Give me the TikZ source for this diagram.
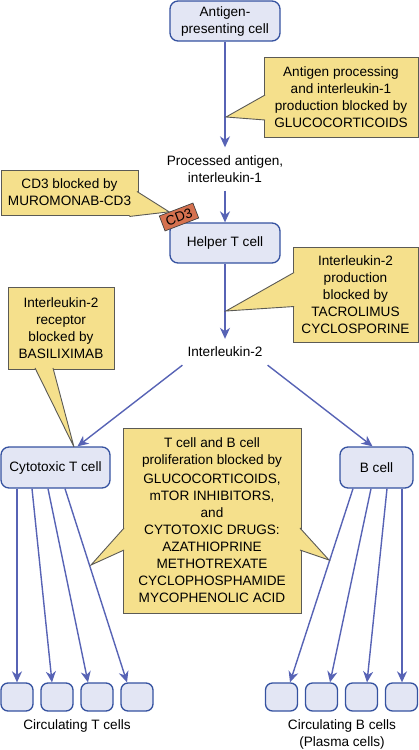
\documentclass[tikz,border=0pt]{standalone}
\usepackage{fontspec}
\setmainfont{Liberation Sans}
\usetikzlibrary{arrows.meta,calc}
\definecolor{CellFill}{HTML}{E3E6F4}
\definecolor{CellLine}{HTML}{3552A0}
\definecolor{Flow}{HTML}{5763B5}
\definecolor{NoteFill}{HTML}{F5E08C}
\definecolor{NoteLine}{HTML}{5B5A55}
\definecolor{TagFill}{HTML}{D5714F}

\begin{document}
\begin{tikzpicture}[x=1pt,y=-1pt,>={Stealth[length=11pt,width=10pt,inset=3.5pt]},
    font=\fontsize{13.6}{17}\selectfont,
    cell/.style={draw=CellLine,fill=CellFill,line width=1.3pt,rounded corners=8pt,align=center,inner sep=2pt},
    small/.style={cell,rounded corners=7pt,minimum width=32pt,minimum height=28pt},
    note/.style={draw=NoteLine,fill=NoteFill,line width=0.9pt,align=center,inner sep=2pt},
    wedge/.style={draw=NoteLine,fill=NoteFill,line width=0.9pt},
    tag/.style={draw=black!75,fill=TagFill,line width=0.7pt,minimum width=36pt,minimum height=16pt,inner sep=1pt},
    flow/.style={->,draw=Flow,line width=1.4pt},
    txt/.style={align=center,inner xsep=5pt,inner ysep=8pt}]
    \useasboundingbox (0,0) rectangle (419,750);

    % main chain
    \node[cell,minimum width=110pt,minimum height=40pt] (apc) at (225,21) {Antigen-\\presenting cell};
    \node[txt] (proc) at (225,169) {Processed antigen,\\interleukin-1};
    \node[cell,minimum width=110pt,minimum height=40pt] (helper) at (225,243) {Helper T cell};
    \node[tag,rotate=21] (cd3) at (179,217) {CD3};
    \node[txt] (il2) at (225,352) {Interleukin-2};
    \node[cell,minimum width=109pt,minimum height=41pt] (cyto) at (55.5,467.5) {Cytotoxic T cell};
    \node[cell,minimum width=73pt,minimum height=41pt] (bcell) at (376.5,467.5) {B cell};

    % circulating cells
    \foreach \x [count=\i] in {17,57,97,137}
      \node[small] (t\i) at (\x,697) {};
    \foreach \x [count=\i] in {281.5,321.5,361.5,401.5}
      \node[small] (b\i) at (\x,697) {};
    \node (tlab) at (77,726) {Circulating T cells};
    \node[align=center] (blab) at (342,734.5) {Circulating B cells\\(Plasma cells)};

    \draw[flow] (apc) -- (proc);
    \draw[flow] (proc) -- (helper);
    \draw[flow] (helper) -- (il2);
    \draw[flow] (il2.south west) -- ([xshift=22pt]cyto.north);
    \draw[flow] (il2.south east) -- ([xshift=-4pt]bcell.north);
    \foreach \s/\e [count=\i] in {-38.5/0,-23.5/-5,-7.5/-9,9.5/-10}
      \draw[flow] ([xshift=\s pt]cyto.south) -- ([xshift=\e pt]t\i.north);
    \foreach \s/\e [count=\i] in {-23.5/8.5,-5.5/8.5,10.5/5.5,25.5/0.5}
      \draw[flow] ([xshift=\s pt]bcell.south) -- ([xshift=\e pt]b\i.north);

    % notes
    \node[note,minimum width=154pt,minimum height=80pt] (n1) at (341,97)
      {Antigen processing\\and interleukin-1\\production blocked by\\GLUCOCORTICOIDS};
    \coordinate (n1tip) at (226,117);
    \filldraw[wedge] ($(n1.west)+(1.5,-2)$) -- (n1tip) -- ($(n1.west)+(1.5,23)$);

    \node[note,minimum width=137pt,minimum height=45pt] (n2) at (69.5,192.5) {CD3 blocked by\\MUROMONAB-CD3};
    \coordinate (n2tip) at ($(cd3.north west)!0.3!(cd3.north east)$);
    \filldraw[wedge] ($(n2.east)+(-1.5,-1)$) -- (n2tip) -- ($(n2.south east)+(-9,1)$);

    \node[note,minimum width=125pt,minimum height=95pt] (n3) at (355.5,294.5)
      {Interleukin-2\\production\\blocked by\\TACROLIMUS\\CYCLOSPORINE};
    \coordinate (n3tip) at (226,311);
    \filldraw[wedge] ($(n3.west)+(1.5,-22)$) -- (n3tip) -- ($(n3.west)+(1.5,12)$);

    \node[note,minimum width=106pt,minimum height=82pt] (n4) at (61,328)
      {Interleukin-2\\receptor\\blocked by\\BASILIXIMAB};
    \coordinate (n4tip) at (74,447);
    \filldraw[wedge] ($(n4.south)+(-26,-1.5)$) -- (n4tip) -- ($(n4.south)+(-8,-1.5)$);

    \node[note,minimum width=178pt,minimum height=185pt] (n5) at (212,520.5)
      {T cell and B cell\\proliferation blocked by\\[2pt]GLUCOCORTICOIDS,\\mTOR INHIBITORS,\\and\\CYTOTOXIC DRUGS:\\AZATHIOPRINE\\METHOTREXATE\\CYCLOPHOSPHAMIDE\\MYCOPHENOLIC ACID};
    \coordinate (n5left) at (91,565);
    \coordinate (n5right) at (329,560);
    \filldraw[wedge] ($(n5.west)+(1.5,7.5)$) -- (n5left) -- ($(n5.west)+(1.5,29.5)$);
    \filldraw[wedge] ($(n5.east)+(-1.5,7.5)$) -- (n5right) -- ($(n5.east)+(-1.5,29.5)$);
  \end{tikzpicture}
\end{document}
